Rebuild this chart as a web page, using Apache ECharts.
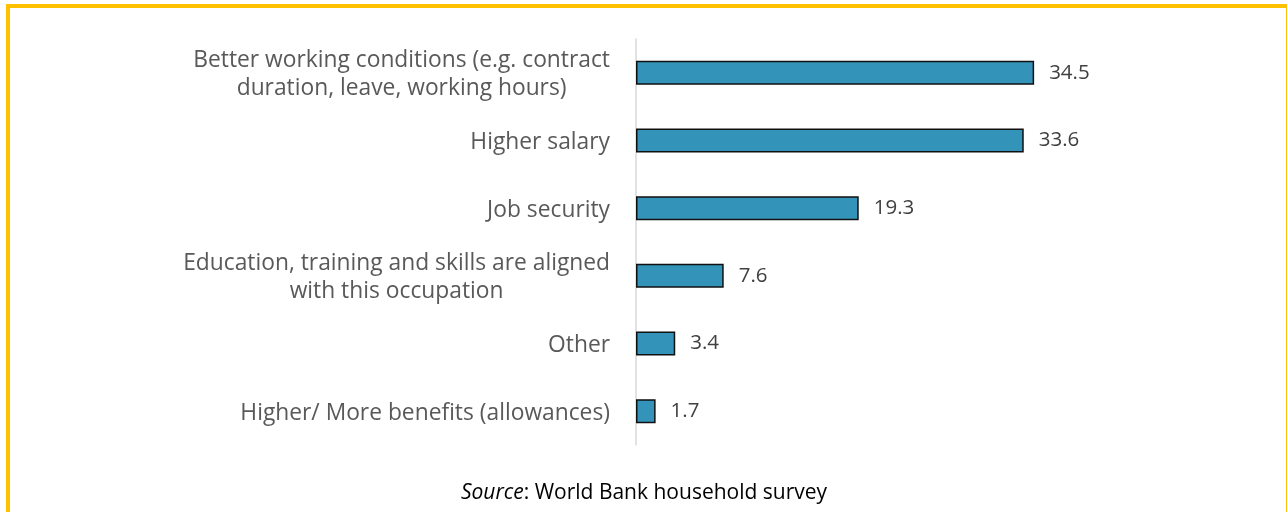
<!DOCTYPE html>
<html><head><meta charset="utf-8">
<script src="https://cdn.jsdelivr.net/npm/echarts@6/dist/echarts.min.js"></script>
<style>
html,body{margin:0;padding:0;background:#fff;}
#c{position:absolute;left:0;top:0;width:1288px;height:512px;}
#frame{position:absolute;left:6px;top:4px;width:1276px;height:520px;border-top:4px solid #FFC000;border-left:4px solid #FFC000;border-right:1.5px solid #FFC000;pointer-events:none;}
</style></head>
<body>
<div id="c"></div><div id="frame"></div>
<script>
const categories = [
  "Better working conditions (e.g. contract\nduration, leave, working hours)",
  "Higher salary",
  "Job security",
  "Education, training and skills are aligned\nwith this occupation",
  "Other",
  "Higher/ More benefits (allowances)"
];
const values = [34.5, 33.6, 19.3, 7.6, 3.4, 1.7];
const sourceLabel = "Source";
const sourceText = ": World Bank household survey";

const chart = echarts.init(document.getElementById('c'));
chart.setOption({
  animation: false,
  textStyle: {fontFamily: "Open Sans"},
  title: {
    text: '{i|' + sourceLabel + '}{n|' + sourceText + '}',
    left: 'center', top: 478,
    textStyle: {
      fontWeight: 'normal',
      rich: {
        i: {fontFamily: "Open Sans", fontStyle: 'italic', fontWeight: 'normal', fontSize: 21, color: '#000'},
        n: {fontFamily: "Open Sans", fontWeight: 'normal', fontSize: 21, color: '#000'}
      }
    }
  },
  grid: {left: 636, top: 39, width: 461.6, height: 406, containLabel: false},
  xAxis: {type: 'value', min: 0, max: 40, show: false},
  yAxis: {
    type: 'category', inverse: true, data: categories,
    axisLine: {show: true, lineStyle: {color: '#D9D9D9', width: 1.5}},
    axisTick: {show: false},
    axisLabel: {
      margin: 26, fontSize: 22.8, color: '#595959', lineHeight: 28,
      formatter: function (v) { return v.split('\n').map(s => '{c|' + s + '}').join('\n'); },
      rich: {c: {align: 'center', fontSize: 22.8, color: '#595959', lineHeight: 28, fontFamily: "Open Sans", padding: [4, 0, 0, 0]}}
    }
  },
  series: [{
    type: 'bar', data: values, barWidth: 24,
    itemStyle: {color: '#3393B9', borderColor: '#111', borderWidth: 1.5},
    label: {show: true, position: 'right', distance: 15, fontSize: 20.5, color: '#404040', fontFamily: "Open Sans", padding: [3, 0, 0, 0]}
  }]
});
</script>
</body></html>
